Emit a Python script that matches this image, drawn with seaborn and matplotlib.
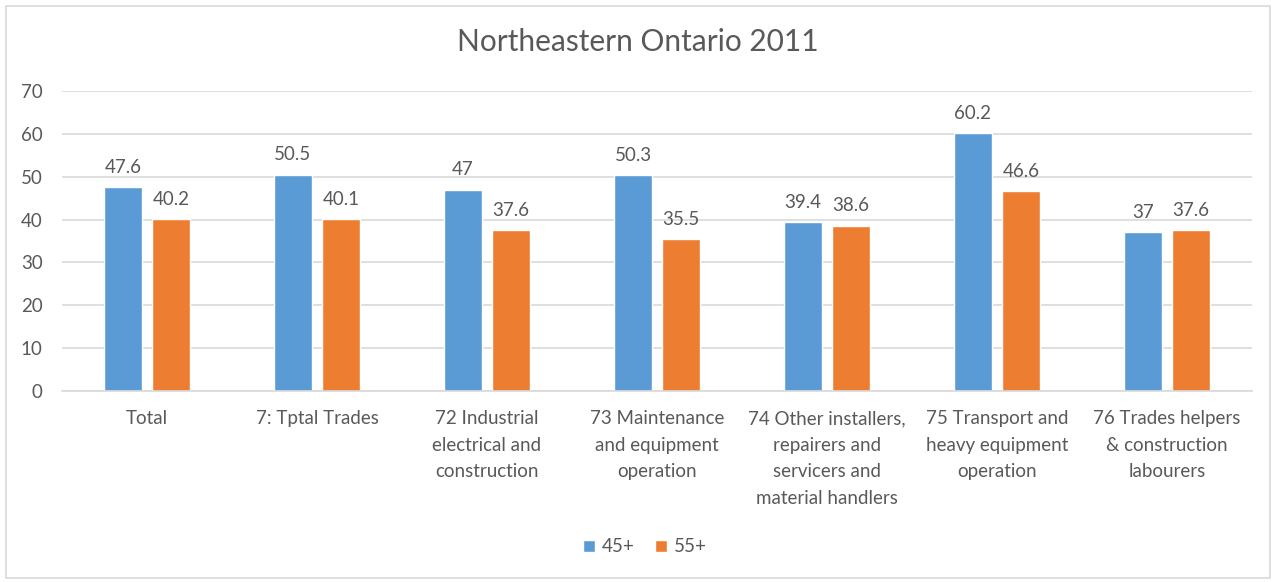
import matplotlib
matplotlib.use("Agg")
import matplotlib.pyplot as plt
import seaborn as sns
import pandas as pd
from matplotlib.patches import Rectangle

categories = ["Total", "7: Tptal Trades", "72 Industrial\nelectrical and\nconstruction",
              "73 Maintenance\nand equipment\noperation",
              "74 Other installers,\nrepairers and\nservicers and\nmaterial handlers",
              "75 Transport and\nheavy equipment\noperation",
              "76 Trades helpers\n& construction\nlabourers"]
series_names = ["45+", "55+"]
values_45 = [47.6, 50.5, 47, 50.3, 39.4, 60.2, 37]
values_55 = [40.2, 40.1, 37.6, 35.5, 38.6, 46.6, 37.6]
value_labels_45 = ["47.6", "50.5", "47", "50.3", "39.4", "60.2", "37"]
value_labels_55 = ["40.2", "40.1", "37.6", "35.5", "38.6", "46.6", "37.6"]
yticks = [0, 10, 20, 30, 40, 50, 60, 70]
title = "Northeastern Ontario 2011"

colors = ["#5B9BD5", "#ED7D31"]
text_color = "#595959"

df = pd.DataFrame({
    "category": categories * 2,
    "series": [series_names[0]] * len(categories) + [series_names[1]] * len(categories),
    "value": values_45 + values_55,
})

sns.set_theme(style="white")
plt.rcParams["font.family"] = ["Lato", "DejaVu Sans"]

W, H = 1275, 582
fig = plt.figure(figsize=(W / 100, H / 100), dpi=100)
ax = fig.add_axes([62 / W, (H - 391) / H, (1252 - 62) / W, 300 / H])

sns.barplot(data=df, x="category", y="value", hue="series", order=categories,
            hue_order=series_names, palette=colors, width=0.565, gap=0.22,
            saturation=1, ax=ax, legend=True, errorbar=None)

fs = 13.5
ax.set_ylim(0, 70)
ax.set_xlim(-0.5, len(categories) - 0.5)
ax.set_yticks(yticks)
ax.yaxis.grid(True, color="#D9D9D9", linewidth=1.2)
ax.set_axisbelow(True)
for s in ["top", "right", "left"]:
    ax.spines[s].set_visible(False)
ax.spines["bottom"].set_color("#D9D9D9")
ax.spines["bottom"].set_linewidth(1.2)
ax.tick_params(axis="both", length=0, colors=text_color, labelsize=fs)
ax.tick_params(axis="x", pad=14)
ax.tick_params(axis="y", pad=14)
ax.set_xlabel("")
ax.set_ylabel("")
for lab in ax.get_xticklabels():
    lab.set_linespacing(1.68)

for cont, labs in zip(ax.containers, [value_labels_45, value_labels_55]):
    ax.bar_label(cont, labels=labs, padding=8, color=text_color, fontsize=fs)

fig.text(0.5, (H - 42) / H, title, ha="center", va="center", fontsize=21.5, color=text_color)

leg = ax.legend(loc="center", bbox_to_anchor=(645 / W, (H - 547) / H), bbox_transform=fig.transFigure,
                ncol=2, frameon=False, fontsize=fs, handlelength=0.65, handleheight=0.65,
                handletextpad=0.35, columnspacing=1.1)
for t in leg.get_texts():
    t.set_color(text_color)

fig.patches.append(Rectangle((6 / W, 4 / H), (1270 - 6) / W, (578 - 6) / H, transform=fig.transFigure,
                             fill=False, edgecolor="#D9D9D9", linewidth=1.2))

fig.savefig("out.png", dpi=100)
